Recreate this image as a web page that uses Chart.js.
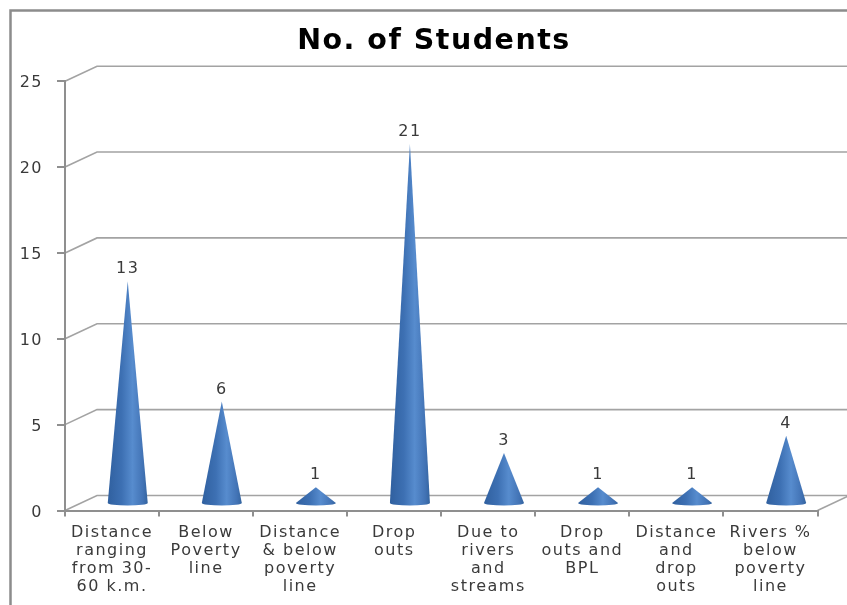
<!DOCTYPE html>
<html>
<head>
<meta charset="utf-8">
<style>
html,body{margin:0;padding:0;background:#fff;overflow:hidden}
#box{width:847px;height:605px;position:relative}
</style>
<script src="https://cdn.jsdelivr.net/npm/chart.js@4"></script>
</head>
<body>
<div id="box"><canvas id="c" width="847" height="605"></canvas></div>
<script>
const categories = [
  ["Distance", "ranging", "from 30-", "60 k.m."],
  ["Below", "Poverty", "line"],
  ["Distance", "& below", "poverty", "line"],
  ["Drop", "outs"],
  ["Due to", "rivers", "and", "streams"],
  ["Drop", "outs and", "BPL"],
  ["Distance", "and", "drop", "outs"],
  ["Rivers %", "below", "poverty", "line"]
];
const students = [13, 6, 1, 21, 3, 1, 1, 4];
const chartTitle = "No. of Students";

const GRID = "#a3a3a3";
const AXIS = "#8f8f8f";
const TEXT = "#3a3a3a";
const FONT = "'DejaVu Sans'";

// Oblique depth of the floor and back wall
const WALL_DX = 32, WALL_DY = -15;
// Where a cone stands on the floor relative to its category slot
const CONE_DX = 15.7, CONE_DY = -6;
const CONE_HALF = 20, BASE_RY = 2.6;

const pseudo3d = {
  id: "pseudo3d",
  afterLayout(chart) {
    // centre the title over the span from the frame to the canvas edge
    chart.titleBlock.left = 21;
    chart.titleBlock.right = 847;
  },
  beforeDraw(chart) {
    const { ctx, scales: { x, y } } = chart;
    ctx.letterSpacing = "1.5px";
    // outer frame
    ctx.save();
    ctx.strokeStyle = "#8c8c8c";
    ctx.lineWidth = 2.5;
    ctx.beginPath();
    ctx.moveTo(10.5, 605);
    ctx.lineTo(10.5, 10.5);
    ctx.lineTo(847, 10.5);
    ctx.stroke();
    // back-wall gridlines with their slanted returns to the axis
    ctx.strokeStyle = GRID;
    ctx.lineWidth = 1.6;
    y.ticks.forEach(t => {
      const py = y.getPixelForValue(t.value);
      ctx.beginPath();
      ctx.moveTo(x.left, py);
      ctx.lineTo(x.left + WALL_DX, py + WALL_DY);
      ctx.lineTo(x.right + WALL_DX, py + WALL_DY);
      ctx.stroke();
    });
    // floor edge on the right
    ctx.beginPath();
    ctx.moveTo(x.right, y.bottom);
    ctx.lineTo(x.right + WALL_DX, y.bottom + WALL_DY);
    ctx.stroke();
    ctx.restore();
  },
  afterDatasetsDraw(chart) {
    const { ctx } = chart;
    const meta = chart.getDatasetMeta(0);
    ctx.save();
    meta.data.forEach((bar, i) => {
      const cx = bar.x + CONE_DX;
      const apex = bar.y + CONE_DY;
      const base = bar.base + CONE_DY - 0.5;
      const g = ctx.createLinearGradient(cx - CONE_HALF, 0, cx + CONE_HALF, 0);
      g.addColorStop(0, "#30609f");
      g.addColorStop(0.35, "#3d70b3");
      g.addColorStop(0.62, "#578cce");
      g.addColorStop(0.88, "#4273b5");
      g.addColorStop(1, "#34649f");
      ctx.fillStyle = g;
      ctx.beginPath();
      ctx.moveTo(cx, apex);
      ctx.lineTo(cx + CONE_HALF, base);
      ctx.ellipse(cx, base, CONE_HALF, BASE_RY, 0, 0, Math.PI);
      ctx.closePath();
      ctx.fill();
      // value above the tip
      ctx.fillStyle = TEXT;
      ctx.font = "16px " + FONT;
      ctx.textAlign = "center";
      ctx.textBaseline = "middle";
      ctx.fillText(String(students[i]), cx, apex - 12);
    });
    ctx.restore();
  }
};

new Chart(document.getElementById("c"), {
  type: "bar",
  data: {
    labels: categories,
    datasets: [{ label: chartTitle, data: students, backgroundColor: "rgba(0,0,0,0)" }]
  },
  options: {
    responsive: false,
    animation: false,
    layout: { padding: { left: 0, right: 29.5, top: 0, bottom: 0 } },
    plugins: {
      legend: { display: false },
      tooltip: { enabled: false },
      title: {
        display: true,
        text: chartTitle,
        color: "#000",
        font: { family: FONT, size: 28.5, weight: "bold", lineHeight: 1.2 },
        padding: { top: 24, bottom: 23 }
      }
    },
    scales: {
      x: {
        afterFit: s => { s.height = 94.5; },
        grid: { drawOnChartArea: false, color: AXIS, lineWidth: 2, tickLength: 6 },
        border: { color: AXIS, width: 2 },
        ticks: {
          color: TEXT,
          font: { family: FONT, size: 16, lineHeight: 1.13 },
          maxRotation: 0, minRotation: 0, autoSkip: false, padding: 7
        }
      },
      y: {
        min: 0, max: 25,
        afterFit: s => { s.width = 65; },
        grid: { drawOnChartArea: false, color: AXIS, lineWidth: 2, tickLength: 8 },
        border: { color: AXIS, width: 2 },
        ticks: {
          stepSize: 5, color: TEXT,
          font: { family: FONT, size: 16 },
          padding: 14,
          labelOffset: 2
        }
      }
    }
  },
  plugins: [pseudo3d]
});
</script>
</body>
</html>
